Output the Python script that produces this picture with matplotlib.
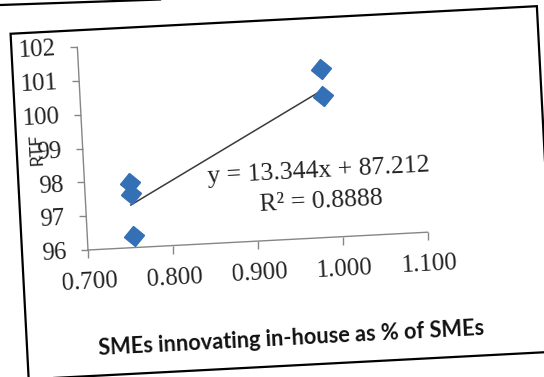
import matplotlib
matplotlib.use("Agg")
import matplotlib.pyplot as plt
from matplotlib.transforms import Affine2D, IdentityTransform
from matplotlib.patches import Rectangle
from matplotlib.lines import Line2D
from matplotlib.markers import MarkerStyle
import numpy as np

# values
smes_inhouse = [0.753, 0.754, 0.755, 0.985, 0.986]
rtf = [97.90, 97.58, 96.35, 100.97, 100.18]
slope = 13.344
intercept = 87.212
r_squared = 0.8888
xticks = [0.7, 0.8, 0.9, 1.0, 1.1]
yticks = [96, 97, 98, 99, 100, 101, 102]

W, H = 544, 377
fig = plt.figure(figsize=(W / 100, H / 100), dpi=100)
fig.patch.set_facecolor("white")
ax = fig.add_axes([88 / W, 127 / H, 340 / W, 203 / H])
ax.set_xlim(0.7, 1.1)
ax.set_ylim(96, 102)
ax.axis("off")

# the scanned page is tilted by a few degrees
tilt = Affine2D().rotate_deg_around(88, 127, 3.0)
T = ax.transData + tilt


def shifted(dx, dy):
    # offset in pixels, before the tilt
    return ax.transData + Affine2D().translate(dx, dy) + tilt


axis_col = "#868686"
txt_col = "#222222"
serif = "Liberation Serif"

# axes lines and ticks
ax.plot([0.7, 1.1], [96, 96], color=axis_col, lw=1, transform=T, clip_on=False)
ax.plot([0.7, 0.7], [96, 102], color=axis_col, lw=1, transform=T, clip_on=False)
ax.plot(xticks, [96] * len(xticks), ls="none", marker=3, ms=5.8, mew=1,
        color=axis_col, transform=T, clip_on=False)
ax.plot([0.7] * len(yticks), yticks, ls="none", marker=0, ms=5.0, mew=1,
        color=axis_col, transform=T, clip_on=False)

for v in xticks:
    ax.text(v, 96, "{:.3f}".format(v), transform=shifted(0, -40), ha="center",
            va="baseline", fontsize=18, family=serif, color=txt_col,
            transform_rotates_text=True)
for v in yticks:
    ax.text(0.7, v, str(v), transform=shifted(-21, -9), ha="right",
            va="baseline", fontsize=18, family=serif, color=txt_col,
            transform_rotates_text=True)

ax.text(0.7, 99.05, "RTF", transform=shifted(-46, 0), rotation=90,
        ha="center", va="center", fontsize=13, family="Lato", color=txt_col,
        transform_rotates_text=True)

# trend line
xs = np.array([min(smes_inhouse), max(smes_inhouse)])
ax.plot(xs, slope * xs + intercept, color="#3a3a3a", lw=1.1, transform=T,
        clip_on=False, zorder=2)

# points
mk = MarkerStyle("D", transform=Affine2D().rotate_deg(3))
ax.plot(smes_inhouse, rtf, ls="none", marker=mk, ms=10.5, color="#3470b5",
        transform=T, clip_on=False, zorder=3)

ax.text(0.9755, 97.617, "y = {:.3f}x + {:.3f}".format(slope, intercept),
        transform=T, ha="center", va="baseline", fontsize=18.5, family=serif,
        color=txt_col, transform_rotates_text=True)
ax.text(0.9761, 96.789, "R\u00b2 = {:.4f}".format(r_squared),
        transform=T, ha="center", va="baseline", fontsize=18.5, family=serif,
        color=txt_col, transform_rotates_text=True)

ax.text(0.934, 96, "SMEs innovating in-house as % of SMEs", transform=shifted(0, -98.6),
        ha="center", va="center", fontsize=15.7, fontweight="bold", family="Lato",
        color="#111111", transform_rotates_text=True)

# page border
fig.add_artist(Rectangle((22, 1), 527, 346, transform=tilt, fill=False,
                         lw=1.6, ec="black"))
fig.add_artist(Line2D([0, 160], [372, 377.5], transform=IdentityTransform(),
                      lw=1.6, color="black"))

fig.savefig("out.png", dpi=100)
